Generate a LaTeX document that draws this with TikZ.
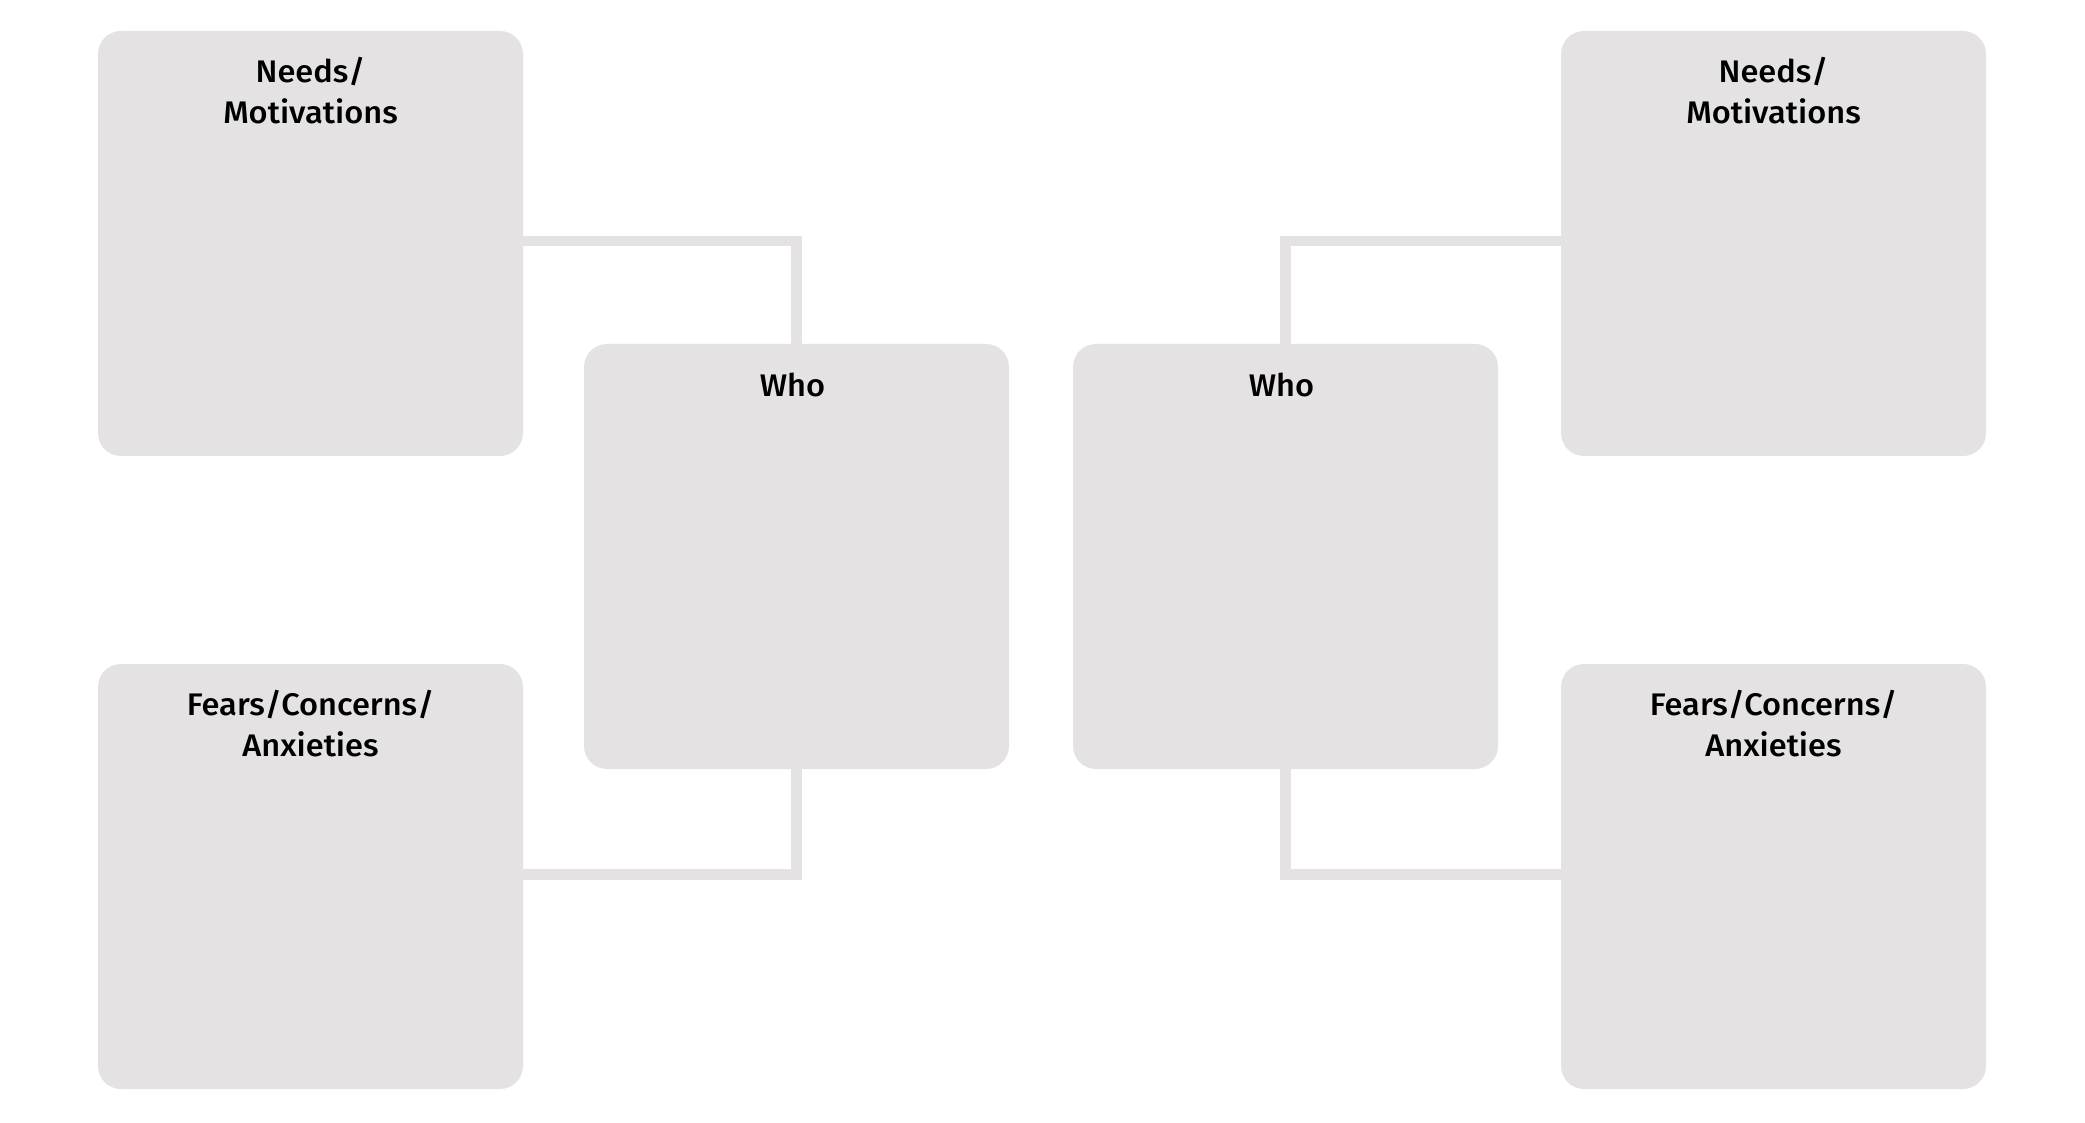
\documentclass[tikz,border=0pt]{standalone}
\usepackage{fontspec}
\setmainfont{Fira Sans}[BoldFont={Fira Sans Medium},BoldFeatures={FakeStretch=1.045}]
\usetikzlibrary{positioning}

\definecolor{panelgray}{HTML}{E4E2E3}

\tikzset{
  panel/.style={fill=panelgray,rounded corners=11.5pt,inner sep=0pt,
    minimum width=212.5pt,minimum height=212.5pt},
  heading/.style={font=\bfseries\fontsize{15.6}{20.35}\selectfont,
    align=center,anchor=north,inner sep=0pt},
  link/.style={draw=panelgray,line width=5.25pt}
}

\begin{document}
\begin{tikzpicture}[x=0.5pt,y=-0.5pt]

\useasboundingbox (0,0) rectangle (2085,1123);

\node[panel] (needsL) at (310.5,243.5) {};
\node[panel] (fearsL) at (310.5,876.5) {};
\node[panel] (whoL) at (796.5,556.5) {};
\node[panel] (whoR) at (1285.5,556.5) {};
\node[panel] (needsR) at (1773.5,243.5) {};
\node[panel] (fearsR) at (1773.5,876.5) {};

\node[heading] (needsLtext) at ([yshift=-13pt]needsL.north) {Needs/\\Motivations};
\node[heading] (fearsLtext) at ([yshift=-13pt]fearsL.north) {Fears/Concerns/\\Anxieties};
\node[heading] (whoLtext) at ([xshift=-2pt,yshift=-14.3pt]whoL.north) {Who};
\node[heading] (whoRtext) at ([xshift=-2pt,yshift=-14.3pt]whoR.north) {Who};
\node[heading] (needsRtext) at ([yshift=-13pt]needsR.north) {Needs/\\Motivations};
\node[heading] (fearsRtext) at ([yshift=-13pt]fearsR.north) {Fears/Concerns/\\Anxieties};

\draw[link] ([yshift=1.25pt]needsL.east) -| (whoL.north);
\draw[link] ([yshift=1pt]fearsL.east) -| (whoL.south);
\draw[link] ([yshift=1.25pt]needsR.west) -| (whoR.north);
\draw[link] ([yshift=1pt]fearsR.west) -| (whoR.south);

\end{tikzpicture}
\end{document}
